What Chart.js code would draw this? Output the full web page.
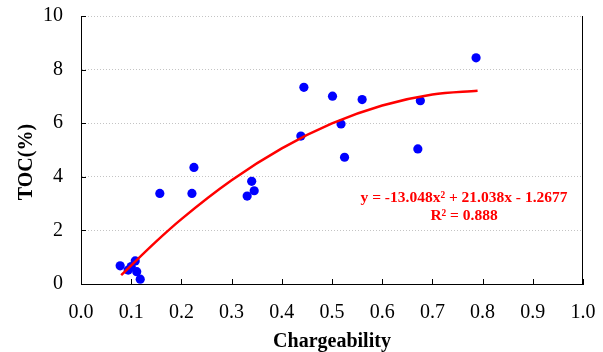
<!DOCTYPE html>
<html>
<head>
<meta charset="utf-8">
<script src="https://cdn.jsdelivr.net/npm/chart.js@4"></script>
<style>
  html, body { margin: 0; padding: 0; background: #fff; }
  #wrap { width: 603px; height: 352px; position: relative; }
</style>
</head>
<body>
<div id="wrap"><canvas id="chart"></canvas></div>
<script>
// measured samples
const chargeability = [0.078, 0.108, 0.100, 0.094, 0.111, 0.118,
                       0.157, 0.221, 0.225, 0.331, 0.340, 0.345,
                       0.438, 0.444, 0.501, 0.518, 0.525, 0.560,
                       0.671, 0.676, 0.787];
const toc = [0.68, 0.86, 0.65, 0.52, 0.46, 0.18,
             3.38, 3.38, 4.35, 3.28, 3.83, 3.48,
             5.52, 7.34, 7.01, 5.97, 4.73, 6.88,
             5.04, 6.84, 8.44];

// polynomial trend line as drawn
const fitX = [0.08, 0.15, 0.2, 0.3, 0.4, 0.5, 0.6, 0.7, 0.79];
const fitY = [0.33, 1.59, 2.42, 3.87, 5.06, 5.99, 6.66, 7.07, 7.21];

const xTicks = [0, 0.1, 0.2, 0.3, 0.4, 0.5, 0.6, 0.7, 0.8, 0.9, 1.0];
const yTicks = [0, 2, 4, 6, 8, 10];

const eqLines = ['y = -13.048x\u00B2 + 21.038x - 1.2677', 'R\u00B2 = 0.888'];
const yTitle = 'TOC(%)';

const serif = '"Liberation Serif", "Times New Roman", serif';

// keep the plot box where the original has it
const noPad = s => {
    s.paddingTop = 0; s.paddingBottom = 0;
    s.paddingLeft = 0; s.paddingRight = 0;
};

const frame = {
    id: 'frame',
    afterDraw(chart) {
        const {ctx, chartArea: a, scales: {x, y}} = chart;
        ctx.save();
        ctx.strokeStyle = '#000';
        ctx.lineWidth = 1;
        ctx.beginPath();
        // right border
        ctx.moveTo(a.right - 0.5, a.top);
        ctx.lineTo(a.right - 0.5, a.bottom);
        // inward ticks
        xTicks.forEach(v => {
            const px = Math.round(x.getPixelForValue(v)) + 0.5;
            ctx.moveTo(px, a.bottom);
            ctx.lineTo(px, a.bottom - 5);
        });
        yTicks.forEach(v => {
            const py = Math.round(y.getPixelForValue(v)) + 0.5;
            ctx.moveTo(a.left, py);
            ctx.lineTo(a.left + 5, py);
        });
        ctx.stroke();

        // y title, sits a bit below the middle in the original
        ctx.fillStyle = '#000';
        ctx.font = 'bold 20px ' + serif;
        ctx.textAlign = 'center';
        ctx.textBaseline = 'middle';
        ctx.translate(27, y.getPixelForValue(4.55));
        ctx.rotate(-Math.PI / 2);
        ctx.fillText(yTitle, 0, 0);
        ctx.setTransform(1, 0, 0, 1, 0, 0);

        // equation label
        ctx.fillStyle = '#ff0000';
        ctx.font = 'bold 15.5px ' + serif;
        ctx.textAlign = 'center';
        ctx.textBaseline = 'alphabetic';
        const cx = x.getPixelForValue(0.763);
        ctx.fillText(eqLines[0], cx, y.getPixelForValue(3.07));
        ctx.fillText(eqLines[1], cx, y.getPixelForValue(2.38));
        ctx.restore();
    }
};

new Chart(document.getElementById('chart'), {
    type: 'scatter',
    data: {
        datasets: [{
            label: 'TOC',
            data: chargeability.map((v, i) => ({x: v, y: toc[i]})),
            backgroundColor: '#0000ff',
            borderWidth: 0,
            pointRadius: 4.6,
            order: 2
        }, {
            type: 'line',
            label: 'Poly. fit',
            data: fitX.map((v, i) => ({x: v, y: fitY[i]})),
            borderColor: '#ff0000',
            borderWidth: 2.5,
            pointRadius: 0,
            fill: false,
            cubicInterpolationMode: 'monotone',
            order: 1
        }]
    },
    options: {
        responsive: true,
        maintainAspectRatio: false,
        animation: false,
        layout: { padding: { top: 16, right: 20, left: 0, bottom: 0 } },
        plugins: {
            legend: { display: false },
            tooltip: { enabled: false }
        },
        scales: {
            x: {
                type: 'linear',
                min: 0, max: 1,
                afterFit: s => { s.height = 68; noPad(s); },
                afterBuildTicks: s => { s.ticks = xTicks.map(v => ({value: v})); },
                grid: { display: false, drawTicks: false },
                border: { display: true, color: '#000', width: 1 },
                ticks: {
                    padding: 17,
                    color: '#000',
                    font: { family: serif, size: 20 },
                    callback: v => v.toFixed(1),
                    maxRotation: 0
                },
                title: {
                    display: true,
                    text: 'Chargeability',
                    color: '#000',
                    font: { family: serif, size: 20, weight: 'bold', lineHeight: 1 },
                    padding: { top: 0, bottom: 0 }
                }
            },
            y: {
                min: 0, max: 10,
                afterFit: s => { s.width = 81; noPad(s); },
                afterBuildTicks: s => { s.ticks = yTicks.map(v => ({value: v})); },
                grid: {
                    drawTicks: false,
                    color: c => (c.tick && c.tick.value === 0) ? 'rgba(0,0,0,0)' : '#c4c4c4',
                    lineWidth: 1
                },
                border: { display: true, color: '#000', width: 1, dash: [1, 2] },
                ticks: {
                    padding: 18,
                    color: '#000',
                    font: { family: serif, size: 20 },
                    callback: v => String(v)
                },
                title: { display: false }
            }
        }
    },
    plugins: [frame]
});
</script>
</body>
</html>
